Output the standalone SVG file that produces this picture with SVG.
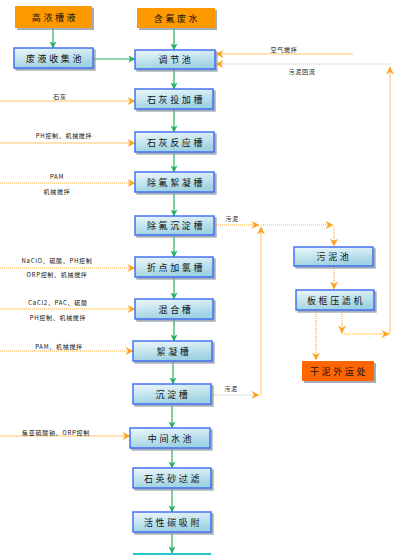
<svg xmlns="http://www.w3.org/2000/svg" width="403" height="555" viewBox="0 0 403 555">
<defs>
<linearGradient id="bg" x1="0" y1="0" x2="0.3" y2="1">
<stop offset="0" stop-color="#eef8fb"/>
<stop offset="1" stop-color="#9fd2e2"/>
</linearGradient>
<filter id="sh" x="-10%" y="-20%" width="130%" height="160%">
<feDropShadow dx="2" dy="2" stdDeviation="0.6" flood-color="#8a9aa8" flood-opacity="0.8"/>
</filter>
<marker id="ag" viewBox="0 0 8 8" refX="7.5" refY="4" markerWidth="7" markerHeight="7" markerUnits="userSpaceOnUse" orient="auto">
<path d="M0,0 L8,4 L0,8 L2,4 z" fill="#27b060"/>
</marker>
<marker id="ao" viewBox="0 0 8 8" refX="7.5" refY="4" markerWidth="9" markerHeight="8" markerUnits="userSpaceOnUse" orient="auto">
<path d="M0,0 L8,4 L0,8 L2.5,4 z" fill="#ffa21f"/>
</marker>
<style>
.box{fill:url(#bg);stroke:#3a68f2;stroke-width:1.4;filter:url(#sh)}
.obox{fill:#ff9900;filter:url(#sh)}
.rbox{fill:#ff6600;filter:url(#sh)}
.t{font-family:"Noto Sans CJK SC","Noto Sans",sans-serif;font-size:9px;letter-spacing:2.6px;fill:#111;text-anchor:middle}
.l{font-family:"Noto Sans CJK SC","Liberation Sans",sans-serif;font-size:6px;letter-spacing:0.7px;fill:#111;text-anchor:middle}
.g{stroke:#27b060;stroke-width:1.2;fill:none;marker-end:url(#ag)}
.s{stroke:#ffd79e;stroke-width:1.6;fill:none;marker-end:url(#ao)}
.d{stroke:#ffad3a;stroke-width:1.2;stroke-dasharray:1 1;fill:none;marker-end:url(#ao)}
.dn{stroke:#ffad3a;stroke-width:1.2;stroke-dasharray:1 1;fill:none}
</style>
</defs>
<rect width="403" height="555" fill="#ffffff"/>

<g id="connectors">
<line class="g" x1="53" y1="28" x2="53" y2="48"/>
<line class="g" x1="174" y1="28" x2="174" y2="50"/>
<line class="g" x1="93" y1="59" x2="135" y2="59"/>
<line class="g" x1="174" y1="69" x2="174" y2="89"/>
<line class="g" x1="174" y1="109" x2="174" y2="132"/>
<line class="g" x1="174" y1="152" x2="174" y2="172"/>
<line class="g" x1="174" y1="192" x2="174" y2="216"/>
<line class="g" x1="174" y1="235" x2="174" y2="257"/>
<line class="g" x1="174" y1="277" x2="174" y2="299"/>
<line class="g" x1="174" y1="319" x2="174" y2="341"/>
<line class="g" x1="173" y1="361" x2="173" y2="384"/>
<line class="g" x1="172" y1="404" x2="172" y2="428"/>
<line class="g" x1="172" y1="448" x2="172" y2="468"/>
<line class="g" x1="172" y1="488" x2="172" y2="512"/>
<line class="g" x1="172" y1="532" x2="172" y2="553"/>
<line x1="133" y1="554" x2="211" y2="554" stroke="#22c8c8" stroke-width="2"/>

<line class="s" x1="0" y1="101" x2="135" y2="101"/>
<line class="s" x1="0" y1="143" x2="135" y2="143"/>
<line class="d" x1="0" y1="183" x2="135" y2="183"/>
<line class="d" x1="0" y1="268" x2="135" y2="268"/>
<line class="d" x1="0" y1="309" x2="135" y2="309"/>
<line class="d" x1="0" y1="351" x2="133" y2="351"/>
<line class="s" x1="0" y1="436" x2="130" y2="436"/>

<line class="s" x1="353" y1="54" x2="216" y2="54"/>
<line class="d" x1="390" y1="64" x2="216" y2="64"/>
<line class="s" x1="390" y1="334" x2="390" y2="67"/>

<line class="d" x1="214" y1="225" x2="259" y2="225"/>
<line class="d" x1="261" y1="225" x2="333" y2="225"/>
<line class="d" x1="334" y1="226" x2="334" y2="246"/>
<line class="s" x1="261" y1="395" x2="261" y2="227"/>
<line class="d" x1="211" y1="395" x2="259" y2="395"/>
<line class="d" x1="334" y1="266" x2="334" y2="289"/>
<line class="d" x1="316" y1="310" x2="316" y2="360"/>
<line class="d" x1="342" y1="310" x2="342" y2="333"/>
<line class="d" x1="342" y1="334" x2="389" y2="334"/>
</g>

<g id="labels">
<text class="l" x="60" y="99">石灰</text>
<text class="l" x="64" y="138">PH控制、机械搅拌</text>
<text class="l" x="57" y="179">PAM</text>
<text class="l" x="57" y="194">机械搅拌</text>
<text class="l" x="57" y="263">NaClO、硫酸、PH控制</text>
<text class="l" x="57" y="277">ORP控制、机械搅拌</text>
<text class="l" x="58" y="305">CaCl2、PAC、硫酸</text>
<text class="l" x="58" y="320">PH控制、机械搅拌</text>
<text class="l" x="59" y="349">PAM、机械搅拌</text>
<text class="l" x="56" y="435">焦亚硫酸钠、ORP控制</text>
<text class="l" x="284" y="52">空气搅拌</text>
<text class="l" x="302" y="74">污泥回流</text>
<text class="l" x="232" y="221">污泥</text>
<text class="l" x="231" y="391">污泥</text>
</g>

<g id="n-gaonong"><rect class="obox" x="15" y="6" width="77" height="22"/><text class="t" x="55" y="20.5">高浓槽液</text></g>
<g id="n-hanfu"><rect class="obox" x="137" y="8" width="78" height="20"/><text class="t" x="177" y="21.5">含氟废水</text></g>
<g id="n-feiye"><rect class="box" x="14" y="48" width="79" height="20"/><text class="t" x="55" y="61.5">废液收集池</text></g>
<g id="n-tiaojie"><rect class="box" x="135" y="50" width="80" height="19"/><text class="t" x="176" y="63">调节池</text></g>
<g id="n-shihuitou"><rect class="box" x="135" y="89" width="78" height="20"/><text class="t" x="176" y="102.5">石灰投加槽</text></g>
<g id="n-shihuifan"><rect class="box" x="135" y="132" width="79" height="20"/><text class="t" x="176" y="145.5">石灰反应槽</text></g>
<g id="n-xuning1"><rect class="box" x="135" y="172" width="79" height="20"/><text class="t" x="176" y="185.5">除氟絮凝槽</text></g>
<g id="n-chendian1"><rect class="box" x="135" y="216" width="79" height="19"/><text class="t" x="176" y="229">除氟沉淀槽</text></g>
<g id="n-zhedian"><rect class="box" x="135" y="257" width="78" height="20"/><text class="t" x="176" y="270.5">折点加氯槽</text></g>
<g id="n-hunhe"><rect class="box" x="135" y="299" width="78" height="20"/><text class="t" x="176" y="312.5">混合槽</text></g>
<g id="n-xuning2"><rect class="box" x="133" y="341" width="79" height="20"/><text class="t" x="174" y="354.5">絮凝槽</text></g>
<g id="n-chendian2"><rect class="box" x="133" y="384" width="78" height="20"/><text class="t" x="173" y="397.5">沉淀槽</text></g>
<g id="n-zhongjian"><rect class="box" x="130" y="428" width="80" height="20"/><text class="t" x="171" y="441.5">中间水池</text></g>
<g id="n-shiying"><rect class="box" x="133" y="468" width="78" height="20"/><text class="t" x="173" y="481.5">石英砂过滤</text></g>
<g id="n-huoxing"><rect class="box" x="133" y="512" width="78" height="20"/><text class="t" x="173" y="525.5">活性碳吸附</text></g>
<g id="n-wunichi"><rect class="box" x="294" y="247" width="79" height="19"/><text class="t" x="334" y="260">污泥池</text></g>
<g id="n-banjia"><rect class="box" x="296" y="290" width="78" height="20"/><text class="t" x="336" y="303.5">板框压滤机</text></g>
<g id="n-ganni"><rect class="rbox" x="302" y="361" width="72" height="20"/><text class="t" x="339" y="374.5">干泥外运处</text></g>
</svg>
